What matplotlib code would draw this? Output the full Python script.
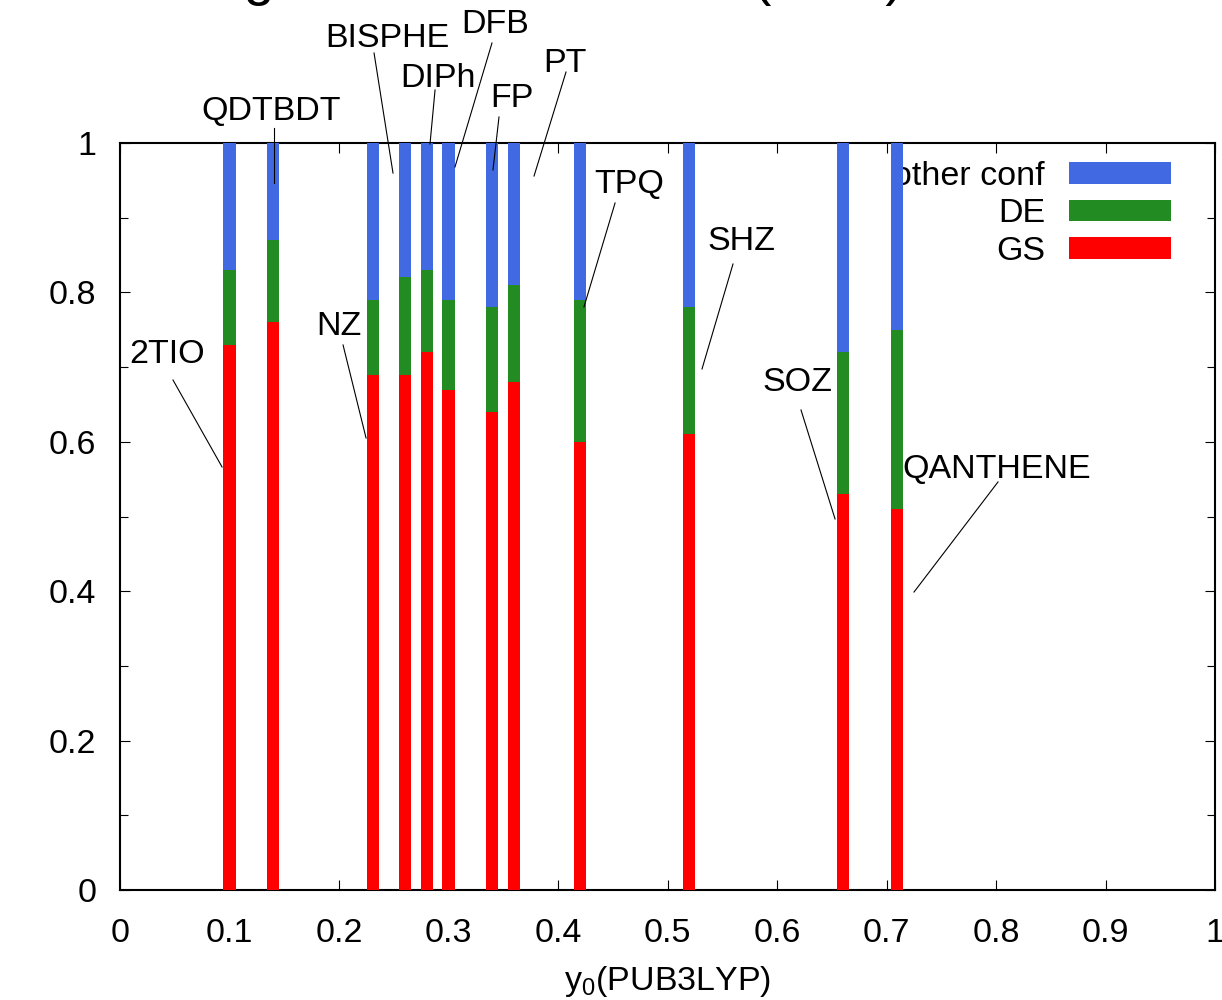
import matplotlib
matplotlib.use("Agg")
import matplotlib.pyplot as plt
from matplotlib.ticker import MultipleLocator

plt.rcParams['font.family'] = ['Liberation Sans', 'DejaVu Sans']
plt.rcParams['mathtext.fontset'] = 'custom'
plt.rcParams['mathtext.rm'] = 'Liberation Sans'

# y0(PUB3LYP) value of each molecule and the weights of the configurations
molecules = ['2TIO', 'QDTBDT', 'NZ', 'BISPHE', 'DIPh', 'DFB',
             'FP', 'PT', 'TPQ', 'SHZ', 'SOZ', 'QANTHENE']
y0 = [0.100, 0.140, 0.231, 0.260, 0.280, 0.300, 0.340, 0.360, 0.420, 0.520, 0.660, 0.710]
gs = [0.73, 0.76, 0.69, 0.69, 0.72, 0.67, 0.64, 0.68, 0.60, 0.61, 0.53, 0.51]
de = [0.10, 0.11, 0.10, 0.13, 0.11, 0.12, 0.14, 0.13, 0.19, 0.17, 0.19, 0.24]
other = [0.17, 0.13, 0.21, 0.18, 0.17, 0.21, 0.22, 0.19, 0.21, 0.22, 0.28, 0.25]

# label text position and leader line (start, end), in data coordinates
label_pos = [(0.0434, 0.7055), (0.1379, 1.0308), (0.200, 0.743), (0.2438, 1.1285),
             (0.2904, 1.0750), (0.3425, 1.1473), (0.3580, 1.0482), (0.4064, 1.0950),
             (0.4648, 0.9331), (0.5671, 0.8568), (0.6183, 0.6680), (0.8009, 0.5515)]
line_from = [(0.0484, 0.6827), (0.1406, 1.0201), (0.2037, 0.7296), (0.2320, 1.1205),
             (0.2877, 1.0710), (0.3397, 1.1339), (0.3461, 1.0348), (0.4073, 1.0950),
             (0.4521, 0.9197), (0.5598, 0.8380), (0.6219, 0.6426), (0.8018, 0.5462)]
line_to = [(0.0932, 0.5663), (0.1406, 0.9465), (0.2247, 0.6051), (0.2493, 0.9598),
           (0.2831, 0.9987), (0.3059, 0.9679), (0.3406, 0.9639), (0.3781, 0.9558),
           (0.4237, 0.7805), (0.5315, 0.6975), (0.6530, 0.4967), (0.7251, 0.3989)]

fs = 24.5
fig = plt.figure(figsize=(12.22, 10), dpi=100)
ax = fig.add_axes([0.0982, 0.110, 0.8961, 0.747])

bottom_de = gs
bottom_other = [g + d for g, d in zip(gs, de)]
w = 0.011
ax.bar(y0, gs, width=w, color='#ff0000', label='GS', zorder=3)
ax.bar(y0, de, width=w, bottom=bottom_de, color='#228b22', label='DE', zorder=3)
ax.bar(y0, other, width=w, bottom=bottom_other, color='#4169e1', label='other conf', zorder=3)

for name, p, a, b in zip(molecules, label_pos, line_from, line_to):
    ax.text(p[0], p[1], name, fontsize=fs, ha='center', va='baseline', clip_on=False)
    ax.plot([a[0], b[0]], [a[1], b[1]], color='black', lw=0.8, clip_on=False, zorder=4)

ax.set_xlim(0, 1)
ax.set_ylim(0, 1)
ax.xaxis.set_major_locator(MultipleLocator(0.1))
ax.yaxis.set_major_locator(MultipleLocator(0.2))
ax.yaxis.set_minor_locator(MultipleLocator(0.1))
ax.xaxis.set_major_formatter(plt.FuncFormatter(lambda v, p: '%g' % round(v, 2)))
ax.yaxis.set_major_formatter(plt.FuncFormatter(lambda v, p: '%g' % round(v, 2)))
ax.tick_params(which='both', direction='in', top=True, right=True, width=0.8, labelsize=fs)
ax.tick_params(which='major', length=7)
ax.tick_params(which='minor', length=6)
ax.tick_params(axis='x', pad=20)
ax.tick_params(axis='y', pad=17)
for s in ax.spines.values():
    s.set_linewidth(1.5)

ax.set_xlabel(r'$\mathregular{y_0}$(PUB3LYP)', fontsize=fs)
ax.xaxis.label.set_va('baseline')
ax.xaxis.set_label_coords(0.5, -0.1339)

handles, labels = ax.get_legend_handles_labels()
leg = ax.legend(handles[::-1], labels[::-1], loc='upper right', bbox_to_anchor=(0.9598, 0.9759),
                frameon=False, markerfirst=False, fontsize=fs, handlelength=3.0,
                handleheight=0.59, handletextpad=0.7, labelspacing=0.19,
                borderpad=0, borderaxespad=0)
leg.set_zorder(2)

fig.text(0.1219, 1.006, 'Weights of the CI states (CAS)', fontsize=40, ha='left', va='baseline')

fig.savefig('out.png', dpi=100)
